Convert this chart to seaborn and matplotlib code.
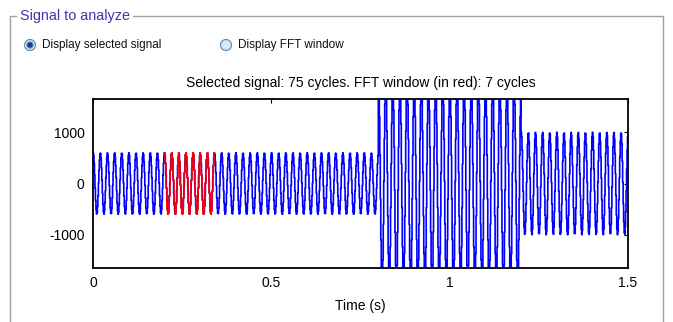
import numpy as np
import pandas as pd
import matplotlib
matplotlib.use("Agg")
import matplotlib.pyplot as plt
import seaborn as sns
from matplotlib.patches import Circle

# Signal description
fundamental_hz = 50
sample_rate_hz = 730
phase_rad = np.pi / 2
segment_edges_s = [0.0, 0.8, 1.2, 1.5]
segment_amplitudes = [600, 2000, 1000]
fft_start_s = 0.2
fft_cycles = 7
total_cycles = 75

x_ticks = [0, 0.5, 1, 1.5]
x_tick_labels = ["0", "0.5", "1", "1.5"]
y_ticks = [-1000, 0, 1000]
y_tick_labels = ["-1000", "0", "1000"]

# Sampled waveform, one amplitude per time segment
t = np.arange(0, segment_edges_s[-1] + 1e-9, 1 / sample_rate_hz)
amp = np.piecewise(
    t,
    [(t >= a) & (t < b) for a, b in zip(segment_edges_s[:-1], segment_edges_s[1:])]
    + [t >= segment_edges_s[-1]],
    segment_amplitudes + [segment_amplitudes[-1]],
)
signal = pd.DataFrame({"time": t,
                       "value": amp * np.sin(2 * np.pi * fundamental_hz * t + phase_rad)})
fft_end_s = fft_start_s + fft_cycles / fundamental_hz
window = signal[(signal.time >= fft_start_s - 1e-9) & (signal.time <= fft_end_s + 1e-9)]

sns.set_theme(style="white")
plt.rcParams["font.family"] = ["Liberation Sans", "DejaVu Sans"]

W, H = 673, 322
fig = plt.figure(figsize=(W / 100, H / 100), dpi=100)
fig.patch.set_facecolor("white")

# Panel overlay in pixel coordinates
panel = fig.add_axes([0, 0, 1, 1])
panel.set_xlim(0, W)
panel.set_ylim(H, 0)
panel.axis("off")
frame_col = "#a0a0a0"
panel.plot([10, 10, 16], [H, 16, 16], color=frame_col, lw=1)
panel.plot([133, 663, 663], [16, 16, H], color=frame_col, lw=1)
panel.text(20, 16, "Signal to analyze", color="#3a3aa8", fontsize=10.4,
           va="center", ha="left")

# Radio buttons
for cx, label, selected in [(30, "Display selected signal", True),
                            (226, "Display FFT window", False)]:
    panel.add_patch(Circle((cx, 45), 5.5, facecolor="#d8e8f6",
                           edgecolor="#6e8fb0", lw=0.9))
    if selected:
        panel.add_patch(Circle((cx, 45), 3.0, facecolor="#1a3c8c",
                               edgecolor="#4f78c0", lw=0.8))
    panel.text(cx + 12, 45, label, fontsize=8.5, va="center", ha="left",
               color="#111111")

# Main signal axes
ax = fig.add_axes([93 / W, 1 - 268 / H, 535 / W, 169 / H])
sns.lineplot(data=signal, x="time", y="value", ax=ax, color="#0000ff",
             lw=1.2, drawstyle="steps-post", estimator=None, sort=False)
sns.lineplot(data=window, x="time", y="value", ax=ax, color="#ff0000",
             lw=1.2, drawstyle="steps-post", estimator=None, sort=False)

ax.set_xlim(0, 1.5)
ax.set_ylim(-1650, 1650)
ax.set_xticks(x_ticks, x_tick_labels)
ax.set_yticks(y_ticks, y_tick_labels)
ax.tick_params(direction="in", length=3, width=0.8, top=True, right=True,
               labelsize=10, colors="black", pad=6)
for s in ax.spines.values():
    s.set_visible(True)
    s.set_color("black")
    s.set_linewidth(1.3)
ax.set_facecolor("white")
ax.set_xlabel("Time (s)", fontsize=10, color="black", labelpad=6)
ax.set_ylabel("")
ax.set_title(f"Selected signal: {total_cycles} cycles. FFT window (in red): {fft_cycles} cycles",
             fontsize=10, color="black", pad=9)

fig.savefig("out.png", dpi=100, facecolor="white")
